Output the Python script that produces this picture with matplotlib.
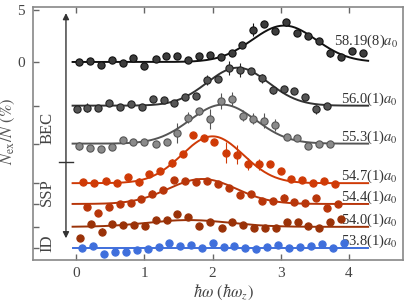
import numpy as np
import matplotlib
matplotlib.use("Agg")
import matplotlib.pyplot as plt

plt.rcParams['font.family'] = ['Liberation Serif', 'DejaVu Serif']
plt.rcParams['mathtext.fontset'] = 'stix'

labels = ["58.19(8)$a_0$", "56.0(1)$a_0$", "55.3(1)$a_0$", "54.7(1)$a_0$",
          "54.4(1)$a_0$", "54.0(1)$a_0$", "53.8(1)$a_0$"]
offsets = [0.0, -4.2, -7.85, -11.65, -13.65, -15.85, -17.9]

x_a = [0.048, 0.205, 0.362, 0.523, 0.685, 0.84, 1.001, 1.168, 1.324, 1.481, 1.642, 1.804, 1.965,
       2.122, 2.283, 2.439, 2.6, 2.761, 2.922, 3.079, 3.24, 3.397, 3.559, 3.724, 3.886, 4.042, 4.198]
y_a = [0.0, 0.13, -0.3, 0.2, -0.13, 0.4, -0.4, 0.3, 0.6, 0.6, 0.2, 0.6, 0.67,
       0.5, 0.9, 1.63, 3.1, 3.65, 3.0, 3.8, 2.75, 2.5, 2.05, 0.84, 0.5, 1.1, 0.84]
e_a = [0.1, 0.1, 0.1, 0.1, 0.1, 0.1, 0.1, 0.1, 0.1, 0.1, 0.1, 0.1, 0.1,
       0.1, 0.2, 0.2, 0.65, 0.2, 0.3, 0.3, 0.3, 0.2, 0.2, 0.35, 0.1, 0.1, 0.1]

x_b = [0.01, 0.166, 0.327, 0.488, 0.645, 0.806, 0.963, 1.125, 1.286, 1.441, 1.603, 1.76,
       1.921, 2.087, 2.248, 2.405, 2.562, 2.723, 2.884, 3.04, 3.201, 3.362, 3.519, 3.68]
y_b = [-0.29, -0.19, -0.23, 0.29, -0.1, 0.13, -0.1, 0.67, 0.51, 0.29, 0.83, 0.92,
       2.46, 2.53, 3.63, 3.44, 3.34, 2.63, 1.5, 1.63, 1.41, 0.83, -0.36, -0.07]
e_b = [0.1, 0.4, 0.1, 0.1, 0.1, 0.1, 0.1, 0.1, 0.1, 0.1, 0.1, 0.1,
       0.45, 0.2, 0.65, 0.7, 0.3, 0.45, 0.4, 0.2, 0.2, 0.2, 0.4, 0.1]

x_c = [0.05, 0.205, 0.367, 0.523, 0.685, 0.84, 1.001, 1.166, 1.327, 1.481, 1.642, 1.804,
       1.965, 2.126, 2.283, 2.441, 2.6, 2.761, 2.922, 3.089, 3.24, 3.397, 3.559, 3.72]
y_c = [-0.21, -0.43, -0.53, -0.34, 0.34, 0.17, 0.12, -0.05, 0.12, 1.0, 2.5, 3.1,
       2.36, 4.1, 4.28, 2.7, 2.4, 2.2, 1.78, 0.65, 0.5, -0.21, -0.05, -0.05]
e_c = [0.4, 0.1, 0.1, 0.1, 0.1, 0.1, 0.1, 0.1, 0.1, 0.95, 0.5, 0.3,
       1.0, 0.8, 0.7, 0.5, 0.5, 0.7, 0.6, 0.3, 0.2, 0.1, 0.1, 0.1]

x_d = [0.107, 0.268, 0.435, 0.597, 0.762, 0.924, 1.075, 1.232, 1.4, 1.562, 1.716, 1.877,
       2.028, 2.195, 2.356, 2.518, 2.679, 2.835, 2.996, 3.157, 3.314, 3.475, 3.636, 3.798]
y_d = [0.1, -0.02, 0.17, -0.02, 0.56, 0.14, 0.91, 1.15, 1.97, 2.79, 4.64, 4.33,
       3.97, 2.92, 2.72, 1.86, 1.81, 1.83, 1.2, 0.44, 0.34, 0.0, 0.2, -0.12]
e_d = [0.1, 0.1, 0.1, 0.1, 0.1, 0.4, 0.3, 0.1, 0.4, 0.2, 0.1, 0.1,
       0.2, 1.0, 0.9, 0.6, 0.5, 0.2, 0.3, 0.1, 0.1, 0.1, 0.1, 0.1]

x_e = [0.166, 0.327, 0.484, 0.645, 0.802, 0.957, 1.119, 1.28, 1.437, 1.598, 1.76, 1.916,
       2.078, 2.243, 2.4, 2.562, 2.723, 2.884, 3.04, 3.201, 3.362, 3.519, 3.68, 3.842]
y_e = [-0.32, -0.84, -0.32, 0.0, 0.13, 0.45, 1.0, 1.3, 2.3, 2.24, 2.1, 2.2,
       1.92, 1.55, 0.9, 1.0, 0.32, 0.32, 0.61, 0.17, 0.13, 0.61, -0.41, -0.03]
e_e = [0.1, 0.1, 0.1, 0.1, 0.2, 0.1, 0.3, 0.1, 0.1, 0.1, 0.1, 0.1,
       0.1, 0.1, 0.1, 0.1, 0.1, 0.1, 0.3, 0.1, 0.1, 0.1, 0.1, 0.1]

x_f = [0.059, 0.216, 0.377, 0.532, 0.694, 0.855, 1.012, 1.173, 1.33, 1.485, 1.647, 1.808, 1.965,
       2.136, 2.292, 2.453, 2.61, 2.771, 2.933, 3.089, 3.251, 3.406, 3.567, 3.724, 3.886]
y_f = [-1.09, 0.29, -0.45, 0.29, 0.19, 0.19, 0.1, 0.67, 0.61, 1.25, 0.93, 0.1, 0.43,
       -0.12, 0.51, 0.19, -0.12, -0.07, -0.07, 0.51, 0.45, 0.12, -0.12, 0.51, 0.72]
e_f = [0.1, 0.1, 0.3, 0.1, 0.3, 0.1, 0.3, 0.1, 0.1, 0.3, 0.1, 0.3, 0.1,
       0.1, 0.1, 0.1, 0.1, 0.1, 0.1, 0.1, 0.1, 0.1, 0.1, 0.1, 0.1]

x_g = [0.084, 0.254, 0.411, 0.572, 0.733, 0.89, 1.051, 1.213, 1.368, 1.525, 1.686, 1.843, 2.004,
       2.166, 2.321, 2.482, 2.644, 2.801, 2.962, 3.123, 3.284, 3.446, 3.603, 3.764, 3.919]
y_g = [0.0, 0.22, -0.58, -0.36, -0.36, -0.16, -0.1, 0.07, 0.48, 0.22, 0.29, 0.0, 0.45,
       0.13, 0.22, 0.0, -0.1, 0.07, 0.29, 0.0, 0.07, 0.16, 0.38, 0.0, 0.45]
e_g = [0.1] * 25

xs = [x_a, x_b, x_c, x_d, x_e, x_f, x_g]
ys = [y_a, y_b, y_c, y_d, y_e, y_f, y_g]
es = [e_a, e_b, e_c, e_d, e_e, e_f, e_g]

fit_amp = [3.5, 3.65, 3.75, 4.5, 2.4, 0.65, 0.0]
fit_center = [3.05, 2.37, 2.15, 2.0, 1.85, 1.65, 2.0]
fit_sigma = [0.47, 0.45, 0.48, 0.45, 0.5, 0.6, 0.8]

face_colors = ['#3c3c3c', '#555555', '#8a8a8a', '#cf3a06', '#b8360a', '#9a3208', '#3f6fdc']
edge_colors = ['#111111', '#222222', '#555555', '#cf3a06', '#b8360a', '#9a3208', '#3f6fdc']
line_colors = ['#111111', '#333333', '#555555', '#cf3a06', '#b8360a', '#9a3208', '#3f6fdc']

fig = plt.figure(figsize=(4.15, 3.02), dpi=100)
ax = fig.add_axes([0.0795, 0.139, 0.8915, 0.838])

xf = np.linspace(-0.05, 4.28, 300)
for i in range(7):
    off = offsets[i]
    yfit = off + fit_amp[i] * np.exp(-(xf - fit_center[i]) ** 2 / (2 * fit_sigma[i] ** 2))
    ax.plot(xf, yfit, color=line_colors[i], lw=1.4, zorder=2)
    yv = np.array(ys[i]) + off
    ax.errorbar(xs[i], yv, yerr=es[i], fmt='none', ecolor=edge_colors[i], elinewidth=0.8, zorder=3)
    ax.plot(xs[i], yv, 'o', ms=5.2, mfc=face_colors[i], mec=edge_colors[i], mew=0.8, zorder=4)
    ly = off + (1.95 if i == 0 else 0.65)
    ax.text(4.72, ly, labels[i], ha='right', va='center', fontsize=10.5, color='#333333')

ax.set_xlim(-0.63, 4.79)
ax.set_ylim(-19.04, 5.29)
ax.set_xticks([0, 1, 2, 3, 4])
ax.set_yticks([5, 0] + offsets[1:])
ax.set_yticklabels(['5', '0'] + [''] * 6)
ax.tick_params(direction='in', length=4, width=1, color='#666666', labelcolor='#444444',
               labelsize=11, top=True, right=False)
ax.tick_params(axis='x', pad=5)
ax.tick_params(axis='y', pad=6)
for s in ax.spines.values():
    s.set_color('#888888')
    s.set_linewidth(1.2)

ax.set_xlabel(r'$\hbar\omega\ (\hbar\omega_z)$', fontsize=12, color='#444444')
ax.xaxis.set_label_coords(0.515, -0.092)
ax.set_ylabel(r'$N_{\rm ex}/N\ (\%)$', fontsize=12, color='#555555')
ax.yaxis.set_label_coords(-0.044, 0.51)

# regime annotations
ax.annotate('', xy=(-0.147, 4.7), xytext=(-0.147, -16.95),
            arrowprops=dict(arrowstyle='<|-|>', color='#333333', lw=1.0,
                            mutation_scale=9, shrinkA=0, shrinkB=0))
ax.plot([-0.25, -0.044], [-9.6, -9.6], color='#333333', lw=1.0)
ax.text(-0.42, -6.35, 'BEC', rotation=90, ha='center', va='center', fontsize=12, color='#444444')
ax.text(-0.42, -12.5, 'SSP', rotation=90, ha='center', va='center', fontsize=12, color='#444444')
ax.text(-0.42, -17.4, 'ID', rotation=90, ha='center', va='center', fontsize=12, color='#444444')

fig.savefig('out.png', dpi=100)
